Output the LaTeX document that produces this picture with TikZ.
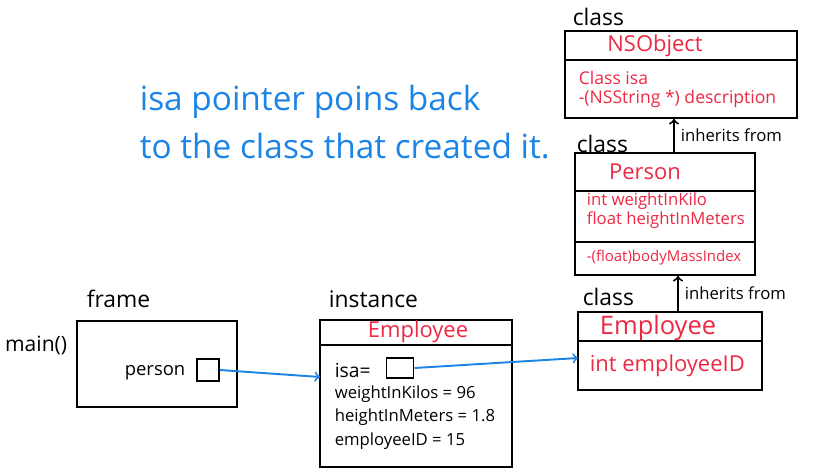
\documentclass[tikz,border=0pt]{standalone}
\usepackage{fontspec}
\setmainfont{Open Sans}
\usepackage{xcolor}
\usetikzlibrary{arrows}
\usetikzlibrary{fit, math}
\definecolor{inkred}{RGB}{238,40,66}
\definecolor{inkblue}{RGB}{28,132,230}

\begin{document}
\begin{tikzpicture}[x=0.02cm,y=-0.02cm,line width=1.1pt,
  lbl/.style={anchor=west,font=\fontsize{13}{15}\selectfont},
  title/.style={text=inkred,font=\fontsize{12.5}{15}\selectfont},
  member/.style={anchor=west,text=inkred,font=\fontsize{10}{12}\selectfont},
  field/.style={anchor=west,font=\fontsize{9.5}{11}\selectfont},
  note/.style={anchor=base west,text=inkblue,font=\fontsize{19}{22}\selectfont},
  box/.style={draw,inner sep=0pt},
  slot/.style={draw,inner sep=0pt},
  ptr/.style={draw=inkblue,line width=1.1pt,-to},
  inh/.style={-to},
]
\useasboundingbox (0,0) rectangle (813,473);

% note
\node[note] (note1) at (133,110) {isa pointer poins back};
\node[note] (note2) at (133,158) {to the class that created it.};

% NSObject
\node[lbl] (clsA) at (566,17) {class};
\node[box,fit={(565,31) (797,118)}] (nsobj) {};
\draw (565,60) -- (797,60);
\node[title] (nsobjname) at (655,46) {NSObject};
\node[member] (isamem) at (572,78) {Class isa};
\node[member] (descmem) at (572,99) {-(NSString *) description};

% Person
\node[lbl] (clsB) at (570,144) {class};
\node[box,fit={(575,153) (755,275)}] (person) {};
\draw (575,191) -- (755,191);
\draw (575,242) -- (755,242);
\node[title] (personname) at (645,172) {Person};
\node[member,font=\fontsize{9.5}{11}\selectfont] (wmem) at (580,201) {int weightInKilo};
\node[member,font=\fontsize{9.5}{11}\selectfont] (hmem) at (580,220) {float heightInMeters};
\node[member,font=\fontsize{8.5}{10}\selectfont] (bmimem) at (580,258) {-(float)bodyMassIndex};

% Employee class
\node[lbl] (clsC) at (576,297) {class};
\node[box,fit={(578,312) (762,390)}] (empcls) {};
\draw (578,341) -- (762,341);
\node[title,font=\fontsize{14.5}{17}\selectfont] (empname) at (658,328) {Employee};
\node[member,font=\fontsize{12.5}{15}\selectfont] (idmem) at (583,366) {int employeeID};

\draw[inh] (person.north -| 674,0) -- (nsobj.south -| 674,0) node[midway,right,font=\fontsize{9.5}{11}\selectfont] {inherits from};
\draw[inh] (empcls.north -| 678,0) -- (person.south -| 678,0) node[midway,right,font=\fontsize{9.5}{11}\selectfont] {inherits from};

% instance
\node[lbl] (instlbl) at (322,299) {instance};
\node[box,fit={(320,320) (512,467)}] (inst) {};
\draw (320,345) -- (512,345);
\node[title] (instname) at (418,332) {Employee};
\node[field,font=\fontsize{11}{13}\selectfont] (isafield) at (328,370) {isa=};
\node[slot,minimum width=0.54cm,minimum height=0.4cm] (isabox) at (400,368) {};
\node[field] (wfield) at (328,394) {weightInKilos = 96};
\node[field] (hfield) at (328,417) {heightInMeters = 1.8};
\node[field] (idfield) at (328,441) {employeeID = 15};

% frame
\node[lbl] (framelbl) at (80,299) {frame};
\node[box,fit={(77,321) (237,407)}] (frame) {};
\node[lbl,anchor=east,font=\fontsize{12}{14}\selectfont] (mainlbl) at (74,345) {main()};
\node[field,font=\fontsize{10.5}{13}\selectfont] (personfield) at (118,373) {person};
\node[slot,minimum size=0.44cm] (personbox) at (208,370) {};

% pointers
\coordinate (instin) at (320,377);
\coordinate (empin) at (578,358);
\draw[ptr] (personbox.east) -- (instin);
\draw[ptr] (isabox.east) -- (empin);
\end{tikzpicture}
\end{document}
